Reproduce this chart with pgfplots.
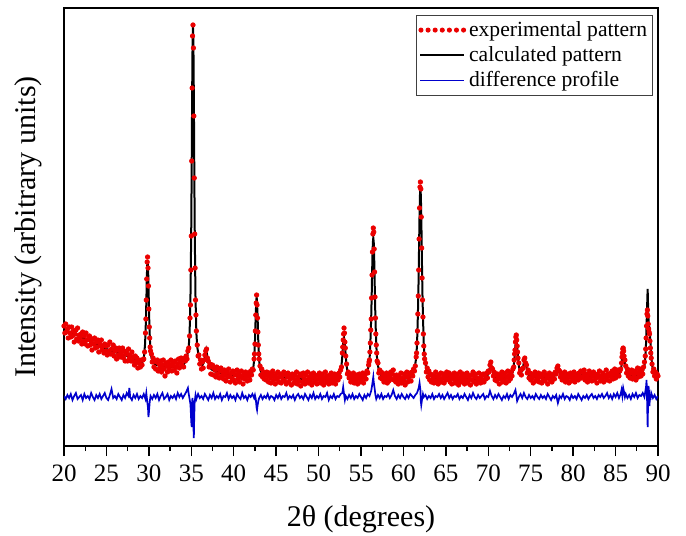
\documentclass[border=0pt]{standalone}
\usepackage{fontspec}
\setmainfont{Liberation Serif}
\usepackage{pgfplots}
\pgfplotsset{compat=1.18}
\definecolor{obsred}{RGB}{235,0,0}
\definecolor{diffblue}{RGB}{0,0,205}

\begin{document}
\begin{tikzpicture}
\begin{axis}[
  scale only axis, width=297pt, height=219pt,
  xmin=20, xmax=90, ymin=0, ymax=438,
  xtick={20,25,...,90}, minor x tick num=1,
  ytick=\empty,
  xtick pos=bottom, tick align=outside,
  major tick length=5pt, minor tick length=2.6pt,
  every tick/.append style={black, line width=0.7pt},
  axis line style={line width=0.8pt},
  /pgf/number format/assume math mode=true,
  xticklabel style={font=\fontsize{12.5}{14}\selectfont, anchor=base, yshift=-12.5pt},
  xlabel={2θ (degrees)},
  xlabel style={font=\fontsize{15}{18}\selectfont, at={(axis description cs:0.5,0)}, anchor=base, yshift=-40pt},
  ylabel={Intensity (arbitrary units)},
  ylabel style={font=\fontsize{15}{18}\selectfont, at={(axis description cs:0,0.5)}, anchor=base, yshift=14.25pt},
  legend cell align=left,
  legend image code/.code={\draw[#1] (0pt,0pt) -- (21.7pt,0pt);},
  legend style={at={(1,1)}, anchor=north east, xshift=-2.65pt, yshift=-3.5pt,
    draw=black!75, line width=0.5pt, font=\fontsize{10.8}{12}\selectfont,
    inner xsep=1pt, inner ysep=1pt, row sep=0pt,
    nodes={inner ysep=1.8pt, inner xsep=1.5pt}},
]
% experimental pattern
\addplot[obsred, only marks, mark=*, mark size=1.1pt,
  legend image code/.code={\foreach \k in {0,...,6}{\fill[obsred] (\k*3.55pt+0.3pt,0pt) circle (1pt);}}]
coordinates {
(20.0,120) (20.1,113) (20.2,122) (20.3,114) (20.4,117) (20.5,108) (20.6,119) (20.7,113) (20.8,109) (20.9,119)
(21.0,110) (21.1,115) (21.2,104) (21.3,112) (21.4,116) (21.5,107) (21.6,118) (21.7,105) (21.8,111) (21.9,108)
(22.0,112) (22.1,102) (22.2,114) (22.3,105) (22.4,110) (22.5,102) (22.6,113) (22.7,106) (22.8,100) (22.9,107)
(23.0,110) (23.1,101) (23.2,105) (23.3,96) (23.4,107) (23.5,102) (23.6,108) (23.7,98) (23.8,104) (23.9,99)
(24.0,106) (24.1,94) (24.2,103) (24.3,100) (24.4,106) (24.5,96) (24.6,100) (24.7,93) (24.8,102) (24.9,95)
(25.0,100) (25.1,91) (25.2,101) (25.3,95) (25.4,104) (25.5,92) (25.6,97) (25.7,92) (25.8,101) (25.9,90)
(26.0,95) (26.1,98) (26.2,87) (26.3,96) (26.4,91) (26.5,98) (26.6,89) (26.7,94) (26.8,91) (26.9,98)
(27.0,88) (27.1,95) (27.2,85) (27.3,92) (27.4,93) (27.5,85) (27.6,97) (27.7,88) (27.8,91) (27.9,85)
(28.0,94) (28.1,85) (28.2,89) (28.3,81) (28.4,90) (28.5,84) (28.6,88) (28.7,78) (28.8,83) (28.9,85)
(29.0,79) (29.1,86) (29.2,81) (29.3,86) (29.4,87) (29.5,94) (29.6,113) (29.65,127) (29.7,146) (29.75,167)
(29.8,184) (29.85,189) (29.9,178) (29.95,160) (30.0,137) (30.05,119) (30.1,108) (30.15,99) (30.2,95) (30.3,92)
(30.4,84) (30.5,88) (30.6,79) (30.7,85) (30.8,77) (30.9,84) (31.0,86) (31.1,75) (31.2,82) (31.3,78)
(31.4,85) (31.5,74) (31.6,81) (31.7,86) (31.8,77) (31.9,70) (32.0,83) (32.1,80) (32.2,74) (32.3,84)
(32.4,77) (32.5,81) (32.6,86) (32.7,75) (32.8,80) (32.9,83) (33.0,76) (33.1,85) (33.2,79) (33.3,73)
(33.4,82) (33.5,87) (33.6,78) (33.7,84) (33.8,88) (33.9,81) (34.0,86) (34.1,79) (34.2,88) (34.3,85)
(34.4,90) (34.5,87) (34.6,95) (34.7,98) (34.8,110) (34.85,128) (34.9,141) (34.95,176) (35.0,210) (35.05,285)
(35.1,358) (35.15,410) (35.2,421) (35.25,398) (35.3,330) (35.35,268) (35.4,212) (35.45,178) (35.5,146) (35.55,131)
(35.6,115) (35.7,101) (35.8,90) (35.9,91) (36.0,82) (36.1,86) (36.2,77) (36.3,84) (36.4,78) (36.5,86)
(36.6,91) (36.7,95) (36.8,97) (36.9,88) (37.0,85) (37.1,79) (37.2,82) (37.3,72) (37.4,79) (37.5,81)
(37.6,71) (37.7,78) (37.8,76) (37.9,69) (38.0,79) (38.1,72) (38.2,77) (38.3,68) (38.4,75) (38.5,78)
(38.6,70) (38.7,74) (38.8,67) (38.9,76) (39.0,71) (39.1,65) (39.2,74) (39.3,69) (39.4,77) (39.5,70)
(39.6,64) (39.7,73) (39.8,68) (39.9,75) (40.0,66) (40.1,72) (40.2,63) (40.3,71) (40.4,76) (40.5,67)
(40.6,73) (40.7,64) (40.8,70) (40.9,75) (41.0,68) (41.1,62) (41.2,72) (41.3,67) (41.4,74) (41.5,69)
(41.6,65) (41.7,73) (41.8,70) (41.9,66) (42.0,75) (42.1,71) (42.2,77) (42.3,76) (42.4,87) (42.45,92)
(42.5,102) (42.55,115) (42.6,131) (42.65,143) (42.7,151) (42.75,141) (42.8,128) (42.85,114) (42.9,101) (42.95,92)
(43.0,87) (43.1,80) (43.2,71) (43.3,77) (43.4,69) (43.5,74) (43.6,67) (43.7,72) (43.8,66) (43.9,74)
(44.0,70) (44.1,64) (44.2,73) (44.3,68) (44.4,63) (44.5,71) (44.6,75) (44.7,66) (44.8,70) (44.9,62)
(45.0,72) (45.1,67) (45.2,74) (45.3,64) (45.4,69) (45.5,72) (45.6,63) (45.7,70) (45.8,66) (45.9,74)
(46.0,65) (46.1,71) (46.2,62) (46.3,69) (46.4,73) (46.5,64) (46.6,70) (46.7,67) (46.8,61) (46.9,72)
(47.0,68) (47.1,63) (47.2,71) (47.3,66) (47.4,74) (47.5,62) (47.6,69) (47.7,65) (47.8,72) (47.9,60)
(48.0,70) (48.1,64) (48.2,73) (48.3,67) (48.4,62) (48.5,71) (48.6,66) (48.7,74) (48.8,63) (48.9,69)
(49.0,65) (49.1,72) (49.2,61) (49.3,68) (49.4,73) (49.5,64) (49.6,70) (49.7,66) (49.8,62) (49.9,71)
(50.0,67) (50.1,73) (50.2,63) (50.3,69) (50.4,65) (50.5,72) (50.6,61) (50.7,68) (50.8,74) (50.9,64)
(51.0,70) (51.1,66) (51.2,62) (51.3,71) (51.4,67) (51.5,73) (51.6,63) (51.7,69) (51.8,65) (51.9,72)
(52.0,62) (52.1,68) (52.2,71) (52.3,66) (52.4,73) (52.5,69) (52.6,76) (52.7,79) (52.8,93) (52.85,99)
(52.9,106) (52.95,112) (53.0,118) (53.05,113) (53.1,104) (53.15,98) (53.2,90) (53.3,82) (53.4,72) (53.5,74)
(53.6,68) (53.7,72) (53.8,64) (53.9,70) (54.0,66) (54.1,73) (54.2,63) (54.3,69) (54.4,65) (54.5,71)
(54.6,62) (54.7,68) (54.8,72) (54.9,64) (55.0,70) (55.1,66) (55.2,73) (55.3,63) (55.4,69) (55.5,72)
(55.6,67) (55.7,75) (55.8,73) (55.9,81) (55.95,84) (56.0,86) (56.05,94) (56.1,103) (56.15,116) (56.2,127)
(56.25,148) (56.3,171) (56.35,194) (56.4,212) (56.45,218) (56.5,214) (56.55,197) (56.6,174) (56.65,149) (56.7,128)
(56.75,112) (56.8,101) (56.85,93) (56.9,85) (57.0,83) (57.1,73) (57.2,76) (57.3,68) (57.4,74) (57.5,67)
(57.6,72) (57.7,64) (57.8,70) (57.9,66) (58.0,73) (58.1,63) (58.2,69) (58.3,65) (58.4,71) (58.5,74)
(58.6,67) (58.7,72) (58.8,76) (58.9,66) (59.0,70) (59.1,64) (59.2,71) (59.3,67) (59.4,62) (59.5,70)
(59.6,66) (59.7,73) (59.8,63) (59.9,68) (60.0,65) (60.1,72) (60.2,61) (60.3,69) (60.4,74) (60.5,64)
(60.6,70) (60.7,66) (60.8,73) (60.9,65) (61.0,74) (61.1,70) (61.2,77) (61.3,75) (61.4,80) (61.5,89)
(61.55,93) (61.6,103) (61.65,115) (61.7,132) (61.75,150) (61.8,176) (61.85,207) (61.9,238) (61.95,259) (62.0,264)
(62.05,257) (62.1,229) (62.15,198) (62.2,168) (62.25,146) (62.3,129) (62.35,112) (62.4,100) (62.45,92) (62.5,87)
(62.6,83) (62.7,74) (62.8,78) (62.9,69) (63.0,75) (63.1,66) (63.2,72) (63.3,64) (63.4,71) (63.5,67)
(63.6,63) (63.7,70) (63.8,74) (63.9,65) (64.0,69) (64.1,62) (64.2,71) (64.3,66) (64.4,73) (64.5,64)
(64.6,68) (64.7,72) (64.8,63) (64.9,70) (65.0,66) (65.1,74) (65.2,71) (65.3,67) (65.4,73) (65.5,64)
(65.6,69) (65.7,62) (65.8,71) (65.9,67) (66.0,73) (66.1,63) (66.2,69) (66.3,65) (66.4,72) (66.5,61)
(66.6,68) (66.7,74) (66.8,64) (66.9,70) (67.0,66) (67.1,72) (67.2,62) (67.3,69) (67.4,65) (67.5,73)
(67.6,63) (67.7,70) (67.8,67) (67.9,61) (68.0,71) (68.1,66) (68.2,74) (68.3,64) (68.4,69) (68.5,72)
(68.6,62) (68.7,68) (68.8,65) (68.9,73) (69.0,67) (69.1,63) (69.2,70) (69.3,66) (69.4,72) (69.5,64)
(69.6,71) (69.7,67) (69.8,73) (69.9,68) (70.0,75) (70.1,74) (70.2,81) (70.3,84) (70.4,78) (70.5,77)
(70.6,70) (70.7,74) (70.8,66) (70.9,71) (71.0,65) (71.1,72) (71.2,68) (71.3,62) (71.4,71) (71.5,67)
(71.6,74) (71.7,64) (71.8,70) (71.9,66) (72.0,73) (72.1,63) (72.2,69) (72.3,75) (72.4,65) (72.5,71)
(72.6,67) (72.7,74) (72.8,70) (72.9,77) (73.0,79) (73.05,86) (73.1,92) (73.15,96) (73.2,104) (73.25,109)
(73.3,111) (73.35,106) (73.4,100) (73.45,94) (73.5,88) (73.6,83) (73.7,73) (73.8,76) (73.9,71) (74.0,77)
(74.1,78) (74.2,86) (74.3,88) (74.4,83) (74.5,81) (74.6,73) (74.7,76) (74.8,68) (74.9,73) (75.0,66)
(75.1,72) (75.2,68) (75.3,63) (75.4,71) (75.5,74) (75.6,65) (75.7,70) (75.8,67) (75.9,73) (76.0,64)
(76.1,69) (76.2,72) (76.3,63) (76.4,70) (76.5,66) (76.6,74) (76.7,65) (76.8,71) (76.9,68) (77.0,62)
(77.1,70) (77.2,73) (77.3,66) (77.4,71) (77.5,64) (77.6,69) (77.7,72) (77.8,67) (77.9,74) (78.0,72)
(78.1,78) (78.2,80) (78.3,76) (78.4,75) (78.5,69) (78.6,73) (78.7,66) (78.8,71) (78.9,67) (79.0,74)
(79.1,64) (79.2,70) (79.3,66) (79.4,72) (79.5,63) (79.6,69) (79.7,73) (79.8,65) (79.9,71) (80.0,67)
(80.1,74) (80.2,64) (80.3,70) (80.4,68) (80.5,72) (80.6,66) (80.7,73) (80.8,69) (80.9,75) (81.0,68)
(81.1,74) (81.2,70) (81.3,76) (81.4,66) (81.5,72) (81.6,68) (81.7,64) (81.8,71) (81.9,75) (82.0,67)
(82.1,72) (82.2,65) (82.3,70) (82.4,74) (82.5,66) (82.6,71) (82.7,68) (82.8,63) (82.9,72) (83.0,69)
(83.1,75) (83.2,65) (83.3,70) (83.4,67) (83.5,73) (83.6,64) (83.7,71) (83.8,68) (83.9,76) (84.0,66)
(84.1,72) (84.2,70) (84.3,65) (84.4,73) (84.5,69) (84.6,75) (84.7,67) (84.8,72) (84.9,77) (85.0,68)
(85.1,74) (85.2,71) (85.3,76) (85.4,70) (85.5,75) (85.6,77) (85.7,83) (85.75,89) (85.8,93) (85.85,97)
(85.9,98) (85.95,95) (86.0,90) (86.1,86) (86.2,80) (86.3,73) (86.4,77) (86.5,70) (86.6,74) (86.7,68)
(86.8,73) (86.9,76) (87.0,67) (87.1,72) (87.2,69) (87.3,75) (87.4,66) (87.5,73) (87.6,78) (87.7,69)
(87.8,74) (87.9,77) (88.0,70) (88.1,76) (88.2,72) (88.3,79) (88.4,84) (88.5,90) (88.55,97) (88.6,108)
(88.65,120) (88.7,132) (88.75,136) (88.8,130) (88.85,122) (88.9,117) (88.95,114) (89.0,112) (89.05,105) (89.1,98)
(89.15,93) (89.2,88) (89.3,82) (89.4,74) (89.5,77) (89.6,70) (89.7,74) (89.8,67) (89.9,72) (90.0,70)
};
\addlegendentry{experimental pattern}
% calculated pattern
\addplot[black, line width=1pt] coordinates {
(20,116) (20.5,114) (21,112.5) (21.5,111) (22,109) (22.5,107) (23,105) (23.5,103) (24,101) (24.5,99)
(25,97) (25.5,95.5) (26,94) (26.5,92.5) (27,91) (27.5,90) (28,89) (28.5,86) (28.85,83) (29.15,82.5)
(29.35,87) (29.45,91) (29.55,102) (29.6,112) (29.65,125) (29.7,143) (29.75,164) (29.8,180) (29.85,185) (29.9,180)
(29.95,164) (30.0,143) (30.05,125) (30.1,112) (30.15,102) (30.25,91) (30.35,87) (30.55,83) (30.85,81) (31.5,80)
(32,79.5) (33,79) (34,79.5) (34.2,83) (34.5,89) (34.7,99) (34.8,113) (34.85,130) (34.9,147) (34.95,181)
(35.0,222) (35.05,283) (35.1,351) (35.15,402) (35.2,419) (35.25,402) (35.3,351) (35.35,283) (35.4,222) (35.45,181)
(35.5,147) (35.55,130) (35.6,113) (35.7,99) (35.9,89) (36.1,83) (36.3,81) (36.45,83) (36.55,86) (36.65,92)
(36.75,96) (36.85,92) (36.95,86) (37.1,80) (37.4,76.5) (37.8,74.5) (38.5,73) (39,72) (40,70.5) (41,70)
(41.7,71) (42.0,72) (42.2,74.5) (42.3,77.5) (42.4,85.5) (42.5,103.5) (42.6,133.5) (42.7,150) (42.8,133.5) (42.9,103.5)
(43.0,85.5) (43.1,77.5) (43.2,74.5) (43.4,72) (43.7,70.5) (44.5,69.5) (45,69) (46,68) (47,67.5) (48,67)
(50,67) (52,67) (52.3,69) (52.5,71.5) (52.6,74.5) (52.7,80.5) (52.8,90) (52.9,102.5) (53.0,108) (53.1,102.5)
(53.2,90) (53.3,80.5) (53.4,74.5) (53.5,71.5) (53.7,69) (54,68) (55,67.5) (55.45,70) (55.75,74) (55.95,82.5)
(56.05,92) (56.15,114) (56.2,128) (56.25,146) (56.3,169) (56.35,190) (56.4,204) (56.45,208) (56.5,204) (56.55,190)
(56.6,169) (56.65,146) (56.7,128) (56.75,114) (56.85,92) (56.95,82.5) (57.15,74) (57.45,70) (58,68) (59,67)
(60,67) (60.6,68) (61.0,71) (61.3,76.5) (61.5,88) (61.6,101) (61.7,130) (61.75,149) (61.8,173) (61.85,204)
(61.9,232) (61.95,251) (62.0,257) (62.05,251) (62.1,232) (62.15,204) (62.2,173) (62.25,149) (62.3,130) (62.4,101)
(62.5,88) (62.7,76.5) (63.0,71) (63.5,68.5) (64.5,67) (64.9,67.5) (65.2,70) (65.5,67.5) (66.5,67) (68,67)
(69.5,67.5) (69.8,69) (70.0,72) (70.1,75.5) (70.2,79.5) (70.3,81.5) (70.4,79.5) (70.5,75.5) (70.6,72) (70.8,69)
(71.5,68) (72.5,68) (72.6,69) (72.8,72) (72.9,74.5) (73.0,80.5) (73.1,89) (73.2,101) (73.3,106) (73.4,101)
(73.5,89) (73.6,80.5) (73.7,75.5) (73.8,73) (74.0,75) (74.1,79) (74.2,84) (74.3,86) (74.4,84) (74.5,79)
(74.6,75) (74.8,71) (75.2,69) (76,68.5) (77.5,68.5) (77.8,70) (78.0,73.5) (78.1,77) (78.2,78.5) (78.3,77)
(78.4,73.5) (78.6,70) (79.2,68.5) (80.5,68.5) (80.8,69.5) (81.1,71.5) (81.4,69.5) (82.5,69) (84,69) (85.2,70)
(85.4,71.5) (85.6,75) (85.7,80.5) (85.8,91.5) (85.9,95) (86.0,91.5) (86.1,84) (86.2,77.5) (86.4,73) (86.7,70.5)
(87.3,69.5) (88.0,71) (88.2,74) (88.4,80) (88.5,88) (88.6,104) (88.7,135) (88.78,157) (88.86,130) (88.94,120)
(89.02,118) (89.1,105) (89.2,92) (89.3,81) (89.45,74) (89.7,70) (90,68.5)
};
\addlegendentry{calculated pattern}
% difference profile
\addplot[diffblue, line width=0.85pt] coordinates {
(20.0,50) (20.2,47) (20.4,51) (20.6,48) (20.8,52) (21.0,46) (21.2,50) (21.4,53) (21.6,47) (21.8,49)
(22.0,51) (22.2,46) (22.4,52) (22.6,48) (22.8,50) (23.0,47) (23.2,53) (23.4,49) (23.6,46) (23.8,51)
(24.0,48) (24.2,52) (24.4,47) (24.6,50) (24.8,53) (25.0,48) (25.2,46) (25.4,51) (25.6,57) (25.8,48)
(26.0,50) (26.2,47) (26.4,52) (26.6,49) (26.8,46) (27.0,51) (27.2,48) (27.4,53) (27.6,50) (27.7,58)
(27.8,49) (28.0,46) (28.2,51) (28.4,48) (28.6,52) (28.8,47) (29.0,50) (29.2,48) (29.4,52) (29.6,47)
(29.7,53) (29.8,45) (29.9,38) (29.95,29) (30.0,33) (30.1,44) (30.2,50) (30.4,47) (30.6,51) (30.8,48)
(31.0,52) (31.2,46) (31.4,50) (31.6,53) (31.8,47) (32.0,49) (32.2,52) (32.4,46) (32.6,50) (32.8,48)
(33.0,51) (33.2,47) (33.4,53) (33.6,49) (33.8,52) (34.0,48) (34.2,51) (34.4,54) (34.6,58) (34.7,52)
(34.8,47) (34.9,42) (35.0,24) (35.05,19) (35.1,45) (35.15,48) (35.2,36) (35.25,20) (35.3,8) (35.35,30)
(35.4,44) (35.5,51) (35.6,47) (35.8,52) (36.0,48) (36.2,50) (36.4,47) (36.6,52) (36.8,49) (37.0,46)
(37.2,51) (37.4,48) (37.6,53) (37.8,47) (38.0,50) (38.2,48) (38.4,52) (38.6,46) (38.8,50) (39.0,49)
(39.2,53) (39.4,47) (39.6,51) (39.8,48) (40.0,50) (40.2,46) (40.4,52) (40.6,49) (40.8,47) (41.0,53)
(41.2,48) (41.4,50) (41.6,46) (41.8,51) (42.0,49) (42.2,52) (42.4,48) (42.5,51) (42.6,47) (42.7,38)
(42.75,36) (42.8,40) (42.9,45) (43.0,48) (43.2,51) (43.4,47) (43.6,50) (43.8,48) (44.0,52) (44.2,47)
(44.4,50) (44.6,49) (44.8,46) (45.0,51) (45.2,48) (45.4,52) (45.6,47) (45.8,50) (46.0,49) (46.2,53)
(46.4,47) (46.6,50) (46.8,48) (47.0,51) (47.2,46) (47.4,50) (47.6,52) (47.8,48) (48.0,50) (48.2,47)
(48.4,52) (48.6,49) (48.8,46) (49.0,51) (49.2,48) (49.4,53) (49.6,47) (49.8,50) (50.0,48) (50.2,52)
(50.4,47) (50.6,50) (50.8,49) (51.0,53) (51.2,46) (51.4,50) (51.6,48) (51.8,52) (52.0,47) (52.2,50)
(52.4,49) (52.6,52) (52.8,53) (52.9,59) (53.0,52) (53.1,46) (53.2,50) (53.4,47) (53.6,51) (53.8,48)
(54.0,52) (54.2,47) (54.4,50) (54.6,48) (54.8,52) (55.0,49) (55.2,46) (55.4,51) (55.6,48) (55.8,52)
(56.0,50) (56.2,55) (56.3,60) (56.4,66) (56.45,69) (56.5,64) (56.6,58) (56.7,51) (56.8,47) (57.0,51)
(57.2,48) (57.4,52) (57.6,47) (57.8,50) (58.0,49) (58.2,52) (58.4,48) (58.6,51) (58.8,56) (59.0,50)
(59.2,47) (59.4,51) (59.6,48) (59.8,52) (60.0,49) (60.2,47) (60.4,51) (60.6,48) (60.8,52) (61.0,50)
(61.2,48) (61.4,51) (61.6,53) (61.8,58) (61.9,63) (62.0,56) (62.05,45) (62.1,41) (62.2,47) (62.3,52)
(62.4,49) (62.6,51) (62.8,47) (63.0,50) (63.2,48) (63.4,52) (63.6,47) (63.8,50) (64.0,49) (64.2,52)
(64.4,48) (64.6,51) (64.8,47) (65.0,50) (65.2,53) (65.4,48) (65.6,51) (65.8,47) (66.0,50) (66.2,49)
(66.4,52) (66.6,47) (66.8,50) (67.0,48) (67.2,52) (67.4,49) (67.6,46) (67.8,51) (68.0,48) (68.2,53)
(68.4,49) (68.6,47) (68.8,51) (69.0,48) (69.2,50) (69.4,52) (69.6,47) (69.8,50) (70.0,49) (70.2,55)
(70.4,50) (70.6,47) (70.8,51) (71.0,48) (71.2,52) (71.4,49) (71.6,46) (71.8,50) (72.0,48) (72.2,52)
(72.4,47) (72.6,51) (72.8,49) (73.0,52) (73.2,56) (73.3,51) (73.4,45) (73.6,49) (73.8,52) (74.0,48)
(74.2,53) (74.4,49) (74.6,47) (74.8,51) (75.0,48) (75.2,50) (75.4,47) (75.6,52) (75.8,49) (76.0,47)
(76.2,51) (76.4,48) (76.6,50) (76.8,47) (77.0,52) (77.2,49) (77.4,46) (77.6,50) (77.8,48) (78.0,51)
(78.1,47) (78.2,43) (78.3,46) (78.4,50) (78.6,48) (78.8,52) (79.0,47) (79.2,50) (79.4,49) (79.6,46)
(79.8,51) (80.0,48) (80.2,50) (80.4,47) (80.6,52) (80.8,49) (81.0,46) (81.2,50) (81.4,48) (81.6,51)
(81.8,47) (82.0,50) (82.2,52) (82.4,48) (82.6,50) (82.8,47) (83.0,51) (83.2,49) (83.4,52) (83.6,48)
(83.8,50) (84.0,53) (84.2,48) (84.4,51) (84.6,47) (84.8,52) (85.0,49) (85.2,53) (85.4,48) (85.6,52)
(85.7,56) (85.8,50) (85.9,58) (86.0,54) (86.1,49) (86.2,52) (86.4,48) (86.6,51) (86.8,47) (87.0,52)
(87.2,49) (87.4,53) (87.6,48) (87.8,51) (88.0,50) (88.2,53) (88.4,49) (88.5,54) (88.6,60) (88.65,66)
(88.7,52) (88.75,30) (88.78,19) (88.82,38) (88.88,60) (88.95,54) (89.0,40) (89.05,52) (89.1,46) (89.2,53)
(89.4,48) (89.6,51) (89.8,47) (90.0,50)
};
\addlegendentry{difference profile}
\end{axis}
\pgfresetboundingbox
\path[use as bounding box] ([shift={(-32pt,-44.5pt)}]current axis.south west) rectangle ([shift={(14pt,4pt)}]current axis.north east);
\end{tikzpicture}
\end{document}
